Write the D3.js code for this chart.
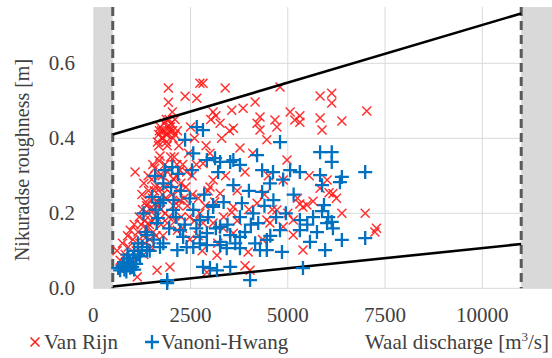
<!DOCTYPE html>
<html>
<head>
<meta charset="utf-8">
<script src="https://cdn.jsdelivr.net/npm/d3@7"></script>
<style>
  body { margin: 0; background: #fff; }
  svg text { font-family: 'Liberation Serif', 'Tinos', 'DejaVu Serif', serif; fill: #404040; }
</style>
</head>
<body>
<div id="chart"></div>
<script>
// Waal discharge [m3/s] vs Nikuradse roughness [m]
const vanRijn = [
  [610,0.10],[690,0.075],[750,0.12],[820,0.09],[880,0.14],[900,0.11],[950,0.155],[980,0.08],
  [1020,0.13],[1050,0.17],[1075,0.31],[1100,0.10],[1130,0.03],[1150,0.15],[1180,0.19],[1200,0.12],
  [1230,0.17],[1260,0.21],[1280,0.14],[1300,0.09],[1320,0.18],[1350,0.23],[1380,0.16],[1400,0.20],
  [1420,0.26],[1450,0.13],[1460,0.213],[1480,0.18],[1500,0.29],[1520,0.24],[1540,0.15],[1560,0.21],
  [1580,0.32],[1600,0.27],[1620,0.19],[1640,0.048],[1650,0.39],[1660,0.23],[1680,0.41],[1680,0.38],
  [1700,0.30],[1700,0.42],[1715,0.353],[1715,0.267],[1720,0.43],[1740,0.17],[1760,0.42],[1760,0.40],
  [1780,0.25],[1800,0.40],[1820,0.44],[1820,0.42],[1840,0.33],[1850,0.20],[1870,0.41],[1880,0.45],
  [1880,0.39],[1900,0.174],[1900,0.38],[1900,0.41],[1920,0.43],[1930,0.534],[1930,0.496],[1950,0.42],
  [1950,0.45],[1970,0.057],[1980,0.28],[1980,0.43],[2000,0.44],[2030,0.47],[2040,0.42],[2050,0.40],
  [2060,0.22],[2080,0.35],[2100,0.45],[2100,0.41],[2130,0.30],[2160,0.155],[2160,0.42],[2180,0.26],
  [2200,0.38],[2230,0.315],[2230,0.235],[2260,0.19],[2300,0.33],[2360,0.512],[2380,0.27],[2420,0.22],
  [2450,0.36],[2480,0.13],[2500,0.43],[2540,0.30],[2600,0.18],[2600,0.40],[2660,0.507],[2700,0.24],
  [2740,0.547],[2740,0.20],[2800,0.10],[2820,0.547],[2820,0.333],[2820,0.174],[2900,0.38],[2920,0.043],
  [2950,0.26],[3000,0.27],[3000,0.36],[3020,0.45],[3080,0.47],[3080,0.289],[3080,0.174],[3150,0.46],
  [3180,0.088],[3200,0.12],[3260,0.44],[3260,0.253],[3300,0.40],[3340,0.16],[3390,0.534],[3400,0.30],
  [3500,0.42],[3560,0.475],[3560,0.203],[3600,0.427],[3600,0.217],[3600,0.147],[3700,0.26],[3770,0.374],
  [3850,0.48],[3900,0.31],[3900,0.06],[3980,0.097],[4030,0.048],[4100,0.36],[4160,0.497],[4210,0.44],
  [4210,0.227],[4285,0.457],[4285,0.422],[4350,0.13],[4460,0.396],[4460,0.182],[4500,0.30],[4540,0.174],
  [4670,0.449],[4720,0.43],[4720,0.209],[4800,0.537],[4880,0.289],[4880,0.164],[4980,0.342],[5060,0.47],
  [5140,0.182],[5140,0.142],[5180,0.449],[5310,0.46],[5310,0.443],[5310,0.225],[5390,0.217],[5390,0.102],
  [5490,0.222],[5550,0.30],[5650,0.232],[5830,0.513],[5830,0.454],[5830,0.267],[5880,0.422],[6010,0.289],
  [6060,0.255],[6130,0.52],[6130,0.494],[6160,0.253],[6250,0.24],[6390,0.446],[6390,0.2],[6990,0.2],
  [7030,0.473],[7240,0.15],[7280,0.16],
  [1250,0.25],[1300,0.28],[1330,0.12],[1370,0.22],[1410,0.30],[1440,0.17],[1490,0.11],[1530,0.33],
  [1570,0.26],[1610,0.14],[1640,0.22],[1690,0.34],[1730,0.21],[1770,0.30],[1790,0.14],[1830,0.27],
  [1860,0.24],[1910,0.31],[1940,0.19],[1990,0.35],[2020,0.25],[2070,0.29],[2110,0.18],[2150,0.33],
  [2190,0.22],[2250,0.28],[2290,0.16],[2330,0.24],[2400,0.31],[2470,0.19],[2550,0.25],[2650,0.33],
  [2700,0.14],[2880,0.22],[3120,0.23],[3350,0.19],[3700,0.18],[4000,0.21],[4400,0.25],[4600,0.21],
  [5000,0.20],[5250,0.24]
];

const vanoniHwang = [
  [640,0.054],[690,0.048],[750,0.06],[800,0.07],[850,0.045],[870,0.067],[900,0.08],[950,0.055],
  [1000,0.057],[1025,0.08],[1050,0.10],[1100,0.065],[1150,0.12],[1200,0.085],[1250,0.11],[1290,0.20],
  [1380,0.142],[1380,0.102],[1450,0.10],[1510,0.244],[1590,0.30],[1630,0.174],[1660,0.187],[1715,0.11],
  [1715,0.227],[1800,0.28],[1800,0.235],[1800,0.12],[1845,0.315],[1900,0.014],[1900,0.022],[2030,0.323],
  [2050,0.209],[2060,0.235],[2160,0.102],[2180,0.305],[2230,0.155],[2310,0.137],[2360,0.396],[2400,0.11],
  [2540,0.315],[2570,0.36],[2570,0.11],[2570,0.209],[2660,0.43],[2740,0.182],[2740,0.12],[2740,0.137],
  [2820,0.422],[2820,0.057],[2920,0.342],[2920,0.147],[2920,0.115],[3000,0.054],[3080,0.217],[3080,0.222],
  [3130,0.347],[3180,0.048],[3210,0.31],[3260,0.337],[3260,0.164],[3260,0.115],[3260,0.124],[3430,0.107],
  [3520,0.337],[3520,0.142],[3520,0.057],[3600,0.342],[3600,0.275],[3770,0.329],[3770,0.19],[3770,0.107],
  [3770,0.137],[3820,0.227],[4030,0.022],[4110,0.2],[4160,0.12],[4210,0.355],[4240,0.174],[4285,0.102],
  [4340,0.315],[4340,0.257],[4460,0.102],[4460,0.129],[4540,0.28],[4620,0.31],[4630,0.235],[4800,0.39],
  [4800,0.155],[4850,0.097],[4880,0.29],[5060,0.315],[5310,0.31],[5310,0.182],[5310,0.155],[5390,0.054],
  [5570,0.124],[5650,0.19],[5830,0.363],[5830,0.302],[5880,0.275],[5880,0.206],[5930,0.222],[5960,0.102],
  [6010,0.174],[6040,0.19],[6130,0.363],[6130,0.337],[6130,0.177],[6160,0.16],[6340,0.283],[6390,0.297],
  [6390,0.129],[6990,0.31],[6990,0.134],
  [1350,0.15],[1550,0.13],[1600,0.21],[1950,0.16],[2000,0.27],[2120,0.19],[2250,0.26],[2350,0.17],
  [2480,0.24],[2650,0.16],[2850,0.25],[2950,0.19],[3150,0.16],[3350,0.23],[3450,0.17],[3650,0.12],
  [3900,0.15],[4000,0.26],[4050,0.17],[4400,0.22],[4550,0.14],[4700,0.19],[4950,0.20],[5150,0.25],
  [5500,0.17],[5750,0.15],[1150,0.09],[950,0.07],[1050,0.05],[800,0.05],[880,0.09]
];

// validity limits (discharge range and roughness envelope)
const qLimits = [500, 11000];
const upperBound = [[500, 0.41], [11000, 0.733]];
const lowerBound = [[500, 0.005], [11000, 0.118]];

const xTicks = [0, 2500, 5000, 7500, 10000];
const yTicks = [0.0, 0.2, 0.4, 0.6];

const width = 552, height = 358;
const serif = "'Liberation Serif', 'Tinos', 'DejaVu Serif', serif";
const svg = d3.select('#chart').append('svg')
  .attr('width', width)
  .attr('height', height);

const x = d3.scaleLinear().domain([0, 12000]).range([93.3, 560.1]);
const y = d3.scaleLinear().domain([0, 0.75]).range([288.3, 7.05]);
const plotTop = y(0.75), plotBottom = y(0);

// grid
svg.append('g').selectAll('line')
  .data(xTicks.slice(1))
  .join('line')
  .attr('x1', d => x(d)).attr('x2', d => x(d))
  .attr('y1', plotTop).attr('y2', plotBottom)
  .attr('stroke', '#d9d9d9').attr('stroke-width', 1);

svg.append('g').selectAll('line')
  .data(yTicks)
  .join('line')
  .attr('x1', x(0)).attr('x2', width)
  .attr('y1', d => y(d)).attr('y2', d => y(d))
  .attr('stroke', '#d9d9d9').attr('stroke-width', 1);

// out-of-range bands
svg.append('rect')
  .attr('x', x(0)).attr('y', plotTop)
  .attr('width', x(qLimits[0]) - x(0)).attr('height', plotBottom - plotTop)
  .attr('fill', '#d9d9d9');
svg.append('rect')
  .attr('x', x(qLimits[1])).attr('y', plotTop)
  .attr('width', x(12000) - x(qLimits[1])).attr('height', plotBottom - plotTop)
  .attr('fill', '#d9d9d9');

svg.append('g').selectAll('line')
  .data(qLimits)
  .join('line')
  .attr('x1', d => x(d)).attr('x2', d => x(d))
  .attr('y1', plotTop).attr('y2', plotBottom)
  .attr('stroke', '#595959').attr('stroke-width', 3)
  .attr('stroke-dasharray', '9,5');

// symbols
const cross = (s) => `M${-s},${-s}L${s},${s}M${-s},${s}L${s},${-s}`;
const plus = (s) => `M${-s},0L${s},0M0,${-s}L0,${s}`;

svg.append('g').selectAll('path')
  .data(vanRijn)
  .join('path')
  .attr('transform', d => `translate(${x(d[0])},${y(d[1])})`)
  .attr('d', cross(4.5))
  .attr('stroke', '#ff1a1a').attr('stroke-opacity', 0.9)
  .attr('stroke-width', 1.5).attr('fill', 'none');

const line = d3.line().x(d => x(d[0])).y(d => y(d[1]));
svg.append('g').selectAll('path')
  .data([upperBound, lowerBound])
  .join('path')
  .attr('d', line)
  .attr('stroke', '#000').attr('stroke-width', 2.6).attr('fill', 'none');

svg.append('g').selectAll('path')
  .data(vanoniHwang)
  .join('path')
  .attr('transform', d => `translate(${x(d[0])},${y(d[1])})`)
  .attr('d', plus(7))
  .attr('stroke', '#0070c0')
  .attr('stroke-width', 2.3).attr('fill', 'none');

// tick labels
svg.append('g').selectAll('text')
  .data(yTicks)
  .join('text')
  .attr('x', 75).attr('y', d => y(d) + 7)
  .attr('text-anchor', 'end')
  .attr('font-family', serif)
  .attr('font-size', 21)
  .text(d => d3.format('.1f')(d));

svg.append('g').selectAll('text')
  .data(xTicks)
  .join('text')
  .attr('x', d => x(d)).attr('y', 322)
  .attr('text-anchor', 'middle')
  .attr('font-family', serif)
  .attr('font-size', 21)
  .text(d => d);

// axis titles
svg.append('text')
  .attr('transform', 'translate(29,160) rotate(-90)')
  .attr('text-anchor', 'middle')
  .attr('font-family', serif)
  .attr('font-size', 20)
  .text('Nikuradse roughness [m]');

const xt = svg.append('text')
  .attr('x', 549).attr('y', 349)
  .attr('text-anchor', 'end')
  .attr('font-family', serif)
  .attr('font-size', 21);
xt.append('tspan').text('Waal discharge [m');
xt.append('tspan').attr('font-size', 13).attr('dy', -8).text('3');
xt.append('tspan').attr('dy', 8).text('/s]');

// legend
const legend = [
  {name: 'Van Rijn', color: '#ff1a1a', d: cross(4.5), w: 1.5, at: 35},
  {name: 'Vanoni-Hwang', color: '#0070c0', d: plus(7), w: 2.3, at: 152}
];
const lg = svg.append('g').selectAll('g')
  .data(legend)
  .join('g')
  .attr('transform', d => `translate(${d.at},342)`);
lg.append('path')
  .attr('d', d => d.d)
  .attr('stroke', d => d.color).attr('stroke-width', d => d.w).attr('fill', 'none');
lg.append('text')
  .attr('x', 9).attr('y', 7)
  .attr('font-family', serif)
  .attr('font-size', 21)
  .text(d => d.name);
</script>
</body>
</html>
